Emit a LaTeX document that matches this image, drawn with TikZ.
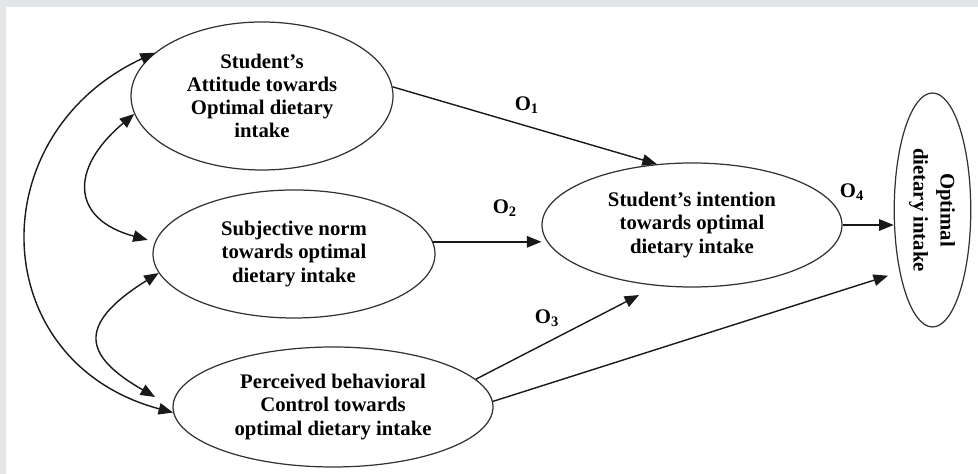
\documentclass[tikz,border=0pt]{standalone}
\usepackage{fontspec}
\setmainfont{Liberation Serif}
\usepackage{graphicx}
\usetikzlibrary{arrows.meta,shapes.geometric}
\definecolor{framegray}{RGB}{226,230,232}

\begin{document}
\begin{tikzpicture}[>={Triangle[length=2.9mm,width=2.3mm]},
  construct/.style={ellipse,draw=black!80,line width=0.7pt,align=center,inner sep=0pt,
    font=\fontsize{11.8}{13.2}\selectfont\bfseries},
  path label/.style={font=\fontsize{11.8}{13.2}\selectfont\bfseries},
  link/.style={->,color=black!90,line width=0.8pt}]
  \useasboundingbox (0,0) rectangle (19.56,9.48);
  \fill[framegray] (0,0) rectangle (19.56,9.48);
  \fill[white] (0.12,0) rectangle (19.56,9.34);
  \node[construct, minimum width=5.24cm, minimum height=2.96cm] (att) at (5.24,7.56) {Student's\\Attitude towards\\Optimal dietary\\intake};
  \node[construct, minimum width=5.64cm, minimum height=2.56cm] (subj) at (5.88,4.40) {Subjective norm\\towards optimal\\dietary intake};
  \node[construct, minimum width=6.4cm, minimum height=2.4cm] (pbc) at (6.66,1.34) {Perceived behavioral\\Control towards\\optimal dietary intake};
  \node[construct, minimum width=6.0cm, minimum height=2.48cm] (int) at (13.84,4.98) {Student's intention\\towards optimal\\dietary intake};
  \node[construct, minimum width=1.42cm, minimum height=4.68cm] (opt) at (18.65,5.28) {\rotatebox{-90}{\fontsize{11.8}{15.4}\selectfont\begin{tabular}{@{}c@{}}Optimal\\dietary intake\end{tabular}}};
  \node[path label] (o1) at (10.54,7.38) {O\textsubscript{1}};
  \node[path label] (o2) at (10.10,5.32) {O\textsubscript{2}};
  \node[path label] (o3) at (10.94,3.12) {O\textsubscript{3}};
  \node[path label] (o4) at (17.04,5.64) {O\textsubscript{4}};
  \path[link]
    (att.4) edge (int.120)
    (subj.5) edge (subj.5 -| int.west)
    (pbc.11) edge[shorten >=4mm] (int.240)
    (pbc.2) edge[shorten >=2.4mm] (opt.242)
    (int.east) edge (int.east -| opt.west);
  \path[link,<->]
    (att.158) edge[out=205,in=165,looseness=1.38] (pbc.182)
    (att.188) edge[out=220,in=165,looseness=1.7,shorten >=1.5mm] (subj.175)
    (subj.188) edge[out=212,in=150,looseness=1.9,shorten >=4mm] (pbc.180);
\end{tikzpicture}
\end{document}
